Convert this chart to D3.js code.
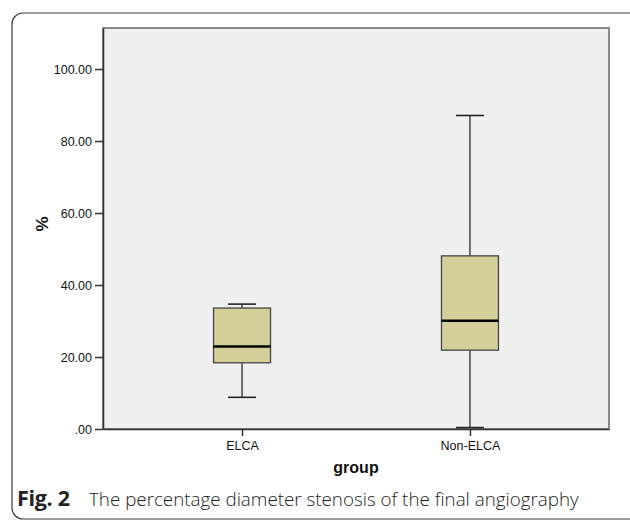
<!DOCTYPE html>
<html><head><meta charset="utf-8">
<script src="https://cdn.jsdelivr.net/npm/d3@7"></script>
<style>body{margin:0;background:#fff}svg{display:block}</style>
</head><body>
<svg id="c" width="630" height="521"></svg>
<script>
const categories = ["ELCA", "Non-ELCA"];
const whiskerLow = [8.8, 0.4];
const q1 = [18.4, 21.9];
const median = [22.9, 30.1];
const q3 = [33.6, 48.1];
const whiskerHigh = [34.7, 87.1];
const yTicks = [0, 20, 40, 60, 80, 100];
const yTickLabels = [".00", "20.00", "40.00", "60.00", "80.00", "100.00"];

const svg = d3.select("#c");
const m = {left:103, right:609, top:28, bottom:429};

// outer rounded frame
svg.append("rect").attr("x",12).attr("y",13).attr("width",630).attr("height",506)
  .attr("rx",11).attr("fill","none").attr("stroke","#3a3a3a").attr("stroke-width",1.2);

const y = d3.scaleLinear().domain([0,111.4]).range([m.bottom,m.top]);
const x = d3.scalePoint().domain(categories).range([m.left,m.right]).padding(0.61);

// plot background
svg.append("rect").attr("x",m.left).attr("y",m.top).attr("width",m.right-m.left).attr("height",m.bottom-m.top)
  .attr("fill","#f0f0f0").attr("stroke","#8a8a8a").attr("stroke-width",2);

// axes
const yAxis = d3.axisLeft(y).tickValues(yTicks).tickFormat((d,i)=>yTickLabels[i]).tickSize(8).tickSizeOuter(0).tickPadding(3);
const gy = svg.append("g").attr("transform",`translate(${m.left},0)`).call(yAxis);
gy.select(".domain").attr("stroke","#333").attr("stroke-width",1.5);
gy.selectAll(".tick line").attr("stroke","#333").attr("stroke-width",1.5);
gy.selectAll("text").attr("font-family","Liberation Sans, Arial, sans-serif").attr("font-size",12.5).attr("fill","#111");

const xAxis = d3.axisBottom(x).tickSize(7).tickPadding(5).tickSizeOuter(0);
const gx = svg.append("g").attr("transform",`translate(0,${m.bottom})`).call(xAxis);
gx.select(".domain").attr("stroke","#333").attr("stroke-width",1.5);
gx.selectAll(".tick line").attr("stroke","#333").attr("stroke-width",1.5);
gx.selectAll("text").attr("font-family","Liberation Sans, Arial, sans-serif").attr("font-size",12.5).attr("fill","#111");

// boxes
const boxW = 57, capW = 28;
const data = categories.map((c,i)=>({c, lo:whiskerLow[i], q1:q1[i], med:median[i], q3:q3[i], hi:whiskerHigh[i]}));
const g = svg.append("g");
data.forEach(d=>{
  const cx = x(d.c);
  g.append("line").attr("x1",cx).attr("x2",cx).attr("y1",y(d.hi)).attr("y2",y(d.q3)).attr("stroke","#444").attr("stroke-width",1.5);
  g.append("line").attr("x1",cx).attr("x2",cx).attr("y1",y(d.q1)).attr("y2",y(d.lo)).attr("stroke","#444").attr("stroke-width",1.5);
  g.append("line").attr("x1",cx-capW/2).attr("x2",cx+capW/2).attr("y1",y(d.hi)).attr("y2",y(d.hi)).attr("stroke","#222").attr("stroke-width",1.6);
  g.append("line").attr("x1",cx-capW/2).attr("x2",cx+capW/2).attr("y1",y(d.lo)).attr("y2",y(d.lo)).attr("stroke","#222").attr("stroke-width",1.6);
  g.append("rect").attr("x",cx-boxW/2).attr("y",y(d.q3)).attr("width",boxW).attr("height",y(d.q1)-y(d.q3))
    .attr("fill","#d4cf99").attr("stroke","#444").attr("stroke-width",1.3);
  g.append("line").attr("x1",cx-boxW/2).attr("x2",cx+boxW/2).attr("y1",y(d.med)).attr("y2",y(d.med)).attr("stroke","#000").attr("stroke-width",2.5);
});

// axis titles
svg.append("text").attr("transform","translate(48,224) rotate(-90)").attr("text-anchor","middle")
  .attr("font-family","Liberation Sans, Arial, sans-serif").attr("font-weight","bold").attr("font-size",17).attr("fill","#111").text("%");
svg.append("text").attr("x",(m.left+m.right)/2).attr("y",473).attr("text-anchor","middle")
  .attr("font-family","Liberation Sans, Arial, sans-serif").attr("font-weight","bold").attr("font-size",16).attr("fill","#111").text("group");

// caption
const cap = svg.append("text").attr("y",506).attr("font-family","Open Sans, Noto Sans, sans-serif").attr("fill","#222");
cap.append("tspan").attr("x",17).attr("font-weight","bold").attr("font-size",21.5).attr("letter-spacing",-0.3).text("Fig. 2");
cap.append("tspan").attr("x",89).attr("font-weight","300").attr("font-size",18.8).text("The percentage diameter stenosis of the final angiography");
</script>
</body></html>
